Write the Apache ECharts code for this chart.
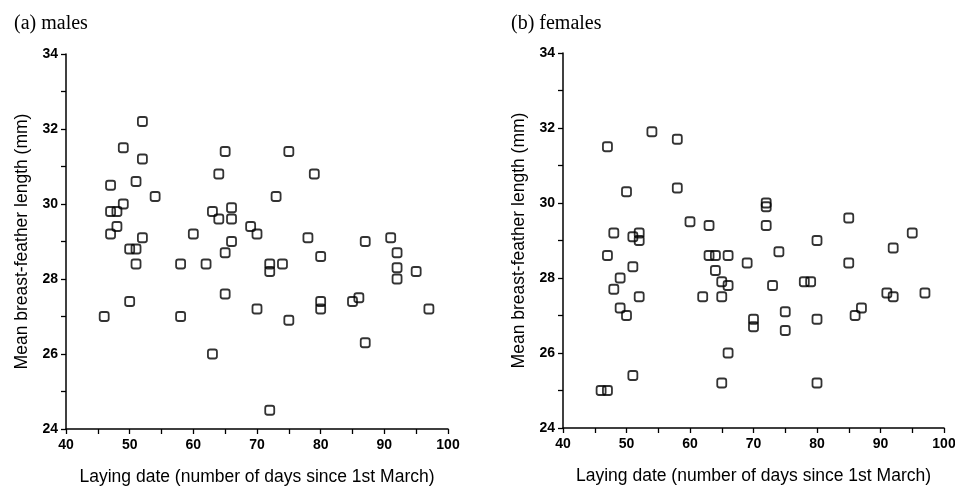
<!DOCTYPE html>
<html>
<head>
<meta charset="utf-8">
<script src="https://cdn.jsdelivr.net/npm/echarts@6/dist/echarts.min.js"></script>
<style>
    html, body {margin: 0; padding: 0; background: #fff;}
    #chart {width: 955px; height: 486px;}
</style>
</head>
<body>
<div id="chart"></div>
<script>
// laying date (days since 1st March), mean breast-feather length (mm)
const maleDays = [46, 47, 47, 47, 48, 48, 49, 49, 50, 51, 51, 51, 50, 52, 52, 52, 54, 58, 58, 60,
    62, 63, 63, 64, 64, 65, 65, 65, 66, 66, 66, 69, 70, 70, 72, 72, 72, 73, 74, 75,
    75, 78, 79, 80, 80, 80, 85, 86, 87, 87, 91, 92, 92, 92, 95, 97];
const maleLength = [27.0, 30.5, 29.8, 29.2, 29.8, 29.4, 31.5, 30.0, 28.8, 28.8, 28.4, 30.6, 27.4, 32.2, 31.2, 29.1, 30.2, 28.4, 27.0, 29.2,
    28.4, 29.8, 26.0, 29.6, 30.8, 31.4, 28.7, 27.6, 29.9, 29.6, 29.0, 29.4, 29.2, 27.2, 24.5, 28.4, 28.2, 30.2, 28.4, 31.4,
    26.9, 29.1, 30.8, 28.6, 27.4, 27.2, 27.4, 27.5, 29.0, 26.3, 29.1, 28.7, 28.3, 28.0, 28.2, 27.2];

const femaleDays = [46, 47, 47, 47, 48, 48, 49, 49, 50, 50, 51, 51, 51, 52, 52, 52, 54, 58, 58, 60,
    62, 63, 63, 64, 64, 65, 65, 65, 66, 66, 66, 69, 70, 70, 72, 72, 72, 73, 74, 75,
    75, 78, 79, 80, 80, 80, 85, 85, 86, 87, 91, 92, 92, 95, 97];
const femaleLength = [25.0, 25.0, 31.5, 28.6, 29.2, 27.7, 28.0, 27.2, 30.3, 27.0, 29.1, 28.3, 25.4, 29.2, 29.0, 27.5, 31.9, 31.7, 30.4, 29.5,
    27.5, 29.4, 28.6, 28.6, 28.2, 27.9, 27.5, 25.2, 28.6, 27.8, 26.0, 28.4, 26.9, 26.7, 30.0, 29.9, 29.4, 27.8, 28.7, 27.1,
    26.6, 27.9, 27.9, 29.0, 26.9, 25.2, 29.6, 28.4, 27.0, 27.2, 27.6, 27.5, 28.8, 29.2, 27.6];

const panelTitles = ["(a) males", "(b) females"];
const xName = "Laying date (number of days since 1st March)";
const yName = "Mean breast-feather length (mm)";

const chart = echarts.init(document.getElementById("chart"));

const sans = "Liberation Sans, Arial, sans-serif";
const serif = "Liberation Serif, Times New Roman, serif";

function makeX(gridIndex) {
    return {
        type: "value",
        gridIndex,
        min: 40,
        max: 100,
        interval: 10,
        name: xName,
        nameLocation: "middle",
        nameGap: 39,
        nameTextStyle: {fontFamily: sans, fontSize: 17.5, color: "#000"},
        axisLine: {show: true, onZero: false, lineStyle: {color: "#000", width: 1.5}},
        axisTick: {show: true, inside: false, length: 5, lineStyle: {color: "#000", width: 1.3}},
        minorTick: {show: true, splitNumber: 2, length: 5, lineStyle: {color: "#000", width: 1.3}},
        axisLabel: {fontFamily: sans, fontSize: 14, fontWeight: "bold", color: "#000", margin: 9},
        splitLine: {show: false}
    };
}

function makeY(gridIndex) {
    return {
        type: "value",
        gridIndex,
        min: 24,
        max: 34,
        interval: 2,
        name: yName,
        nameLocation: "middle",
        nameGap: 35,
        nameTextStyle: {fontFamily: sans, fontSize: 17.5, color: "#000"},
        axisLine: {show: true, onZero: false, lineStyle: {color: "#000", width: 1.5}},
        axisTick: {show: true, inside: false, length: 5, lineStyle: {color: "#000", width: 1.3}},
        minorTick: {show: true, splitNumber: 2, length: 5, lineStyle: {color: "#000", width: 1.3}},
        axisLabel: {fontFamily: sans, fontSize: 14, fontWeight: "bold", color: "#000", margin: 8},
        splitLine: {show: false}
    };
}

function makeSeries(index, days, lengths) {
    return {
        type: "scatter",
        xAxisIndex: index,
        yAxisIndex: index,
        symbol: "roundRect",
        symbolSize: 9,
        data: days.map((d, i) => [d, lengths[i]]),
        itemStyle: {color: "rgba(255,255,255,0)", borderColor: "#000", borderWidth: 1.8},
        emphasis: {disabled: true}
    };
}

chart.setOption({
    animation: false,
    title: [
        {text: panelTitles[0], left: 9, top: 9, textStyle: {fontFamily: serif, fontSize: 20, fontWeight: "normal", color: "#000"}},
        {text: panelTitles[1], left: 506, top: 9, textStyle: {fontFamily: serif, fontSize: 20, fontWeight: "normal", color: "#000"}}
    ],
    grid: [
        {left: 66, top: 54, width: 382, height: 375, outerBoundsMode: "none"},
        {left: 563, top: 53, width: 381, height: 375, outerBoundsMode: "none"}
    ],
    xAxis: [makeX(0), makeX(1)],
    yAxis: [makeY(0), makeY(1)],
    series: [
        makeSeries(0, maleDays, maleLength),
        makeSeries(1, femaleDays, femaleLength)
    ]
});

window.addEventListener("resize", () => chart.resize());
</script>
</body>
</html>
